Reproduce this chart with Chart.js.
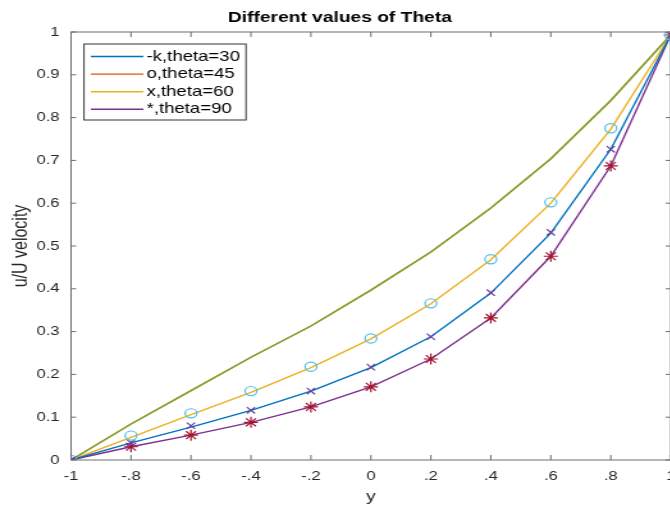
<!DOCTYPE html>
<html>
<head>
<meta charset="utf-8">
<script src="https://cdn.jsdelivr.net/npm/chart.js@4.4.1/dist/chart.umd.min.js"></script>
<style>
  html, body { margin: 0; padding: 0; background: #fff; overflow: hidden; }
  /* the reference picture is stretched sideways, so the canvas is too */
  #plot { transform: scaleX(1.28); transform-origin: 0 0; display: block; }
</style>
</head>
<body>
<canvas id="plot" width="542" height="506"></canvas>
<script>
// x positions (y coordinate across the channel)
const xs = [-1, -0.8, -0.6, -0.4, -0.2, 0, 0.2, 0.4, 0.6, 0.8, 1];

// line values
const theta30 = [0, 0.040, 0.077, 0.116, 0.161, 0.216, 0.288, 0.390, 0.530, 0.726, 0.993];
const theta60 = [0, 0.053, 0.106, 0.158, 0.216, 0.283, 0.365, 0.468, 0.600, 0.773, 0.993];
const theta90 = [0, 0.031, 0.058, 0.088, 0.124, 0.171, 0.236, 0.332, 0.476, 0.687, 0.993];
const greenLine = [0, 0.084, 0.162, 0.240, 0.313, 0.397, 0.486, 0.589, 0.704, 0.840, 0.993];
const theta45 = greenLine; // orange line sits under the green one

// marker series
const circleMarks = [0, 0.057, 0.109, 0.161, 0.218, 0.284, 0.366, 0.469, 0.602, 0.775, 0.993];
const crossMarks = [0, 0.040, 0.080, 0.116, 0.161, 0.217, 0.288, 0.391, 0.532, 0.726, 0.993];
const starMarks = [0, 0.031, 0.058, 0.088, 0.124, 0.171, 0.236, 0.332, 0.476, 0.687, 0.993];

const legendLabels = ["-k,theta=30", "o,theta=45", "x,theta=60", "*,theta=90"];

const axisColor = '#6e6e6e';
const textColor = '#262626';
const fontFamily = "'Liberation Sans', Arial, sans-serif";

const pts = vals => vals.map((v, i) => ({ x: xs[i], y: v }));

// higher order = drawn further below
function lineSet(label, vals, color, order) {
    return { label, data: pts(vals), order, showLine: true, borderColor: color, backgroundColor: color, borderWidth: 1.4, pointRadius: 0, pointHoverRadius: 0, tension: 0, fill: false };
}
function markSet(vals, color, style, r) {
    return { data: pts(vals), order: 0, showLine: false, borderColor: color, backgroundColor: 'transparent', borderWidth: 1.2, pointStyle: style, pointRadius: r, pointHoverRadius: r };
}

function fmtX(v) {
    const r = Math.round(v * 10) / 10;
    if (r === 0) return '0';
    if (Math.abs(r) === 1) return String(r);
    return r.toFixed(1).replace('0.', '.');
}
function fmtY(v) {
    const r = Math.round(v * 10) / 10;
    if (r === 0) return '0';
    if (r === 1) return '1';
    return r.toFixed(1);
}

// matlab style box with inward ticks + legend inside the axes
const boxAndLegend = {
    id: 'boxAndLegend',
    afterDatasetsDraw(chart) {
        const ctx = chart.ctx;
        const { left, right, top, bottom } = chart.chartArea;
        ctx.save();
        ctx.strokeStyle = axisColor;
        ctx.lineWidth = 1;
        ctx.strokeRect(left, top, right - left, bottom - top);
        ctx.beginPath();
        chart.scales.x.ticks.forEach(t => {
            const px = chart.scales.x.getPixelForValue(t.value);
            ctx.moveTo(px, bottom); ctx.lineTo(px, bottom - 5);
            ctx.moveTo(px, top); ctx.lineTo(px, top + 5);
        });
        chart.scales.y.ticks.forEach(t => {
            const py = chart.scales.y.getPixelForValue(t.value);
            ctx.moveTo(left, py); ctx.lineTo(left + 4, py);
            ctx.moveTo(right, py); ctx.lineTo(right - 4, py);
        });
        ctx.stroke();

        // legend
        const bx = 65.6, by = 44, bw = 126.6, bh = 76;
        ctx.fillStyle = '#fff';
        ctx.fillRect(bx, by, bw, bh);
        ctx.strokeStyle = '#333';
        ctx.strokeRect(bx, by, bw, bh);
        ctx.font = '14.5px ' + fontFamily;
        ctx.textBaseline = 'middle';
        ctx.fillStyle = '#000';
        legendLabels.forEach((lab, i) => {
            const ds = chart.data.datasets[i];
            const y = 56.5 + i * 17.6;
            ctx.strokeStyle = ds.borderColor;
            ctx.lineWidth = 1.4;
            ctx.beginPath();
            ctx.moveTo(71, y); ctx.lineTo(112, y);
            ctx.stroke();
            ctx.fillText(lab, 114.5, y);
        });
        ctx.restore();
    }
};

new Chart(document.getElementById('plot'), {
    type: 'scatter',
    data: {
        datasets: [
            lineSet(legendLabels[0], theta30, '#0072BD', 2),
            lineSet(legendLabels[1], theta45, '#D95319', 3),
            lineSet(legendLabels[2], theta60, '#EDB120', 2),
            lineSet(legendLabels[3], theta90, '#7E2F8E', 2),
            lineSet('', greenLine, '#77AC30', 1),
            markSet(circleMarks, '#4DBEEE', 'circle', 4.6),
            markSet(crossMarks, '#6A3F9E', 'crossRot', 4.5),
            markSet(starMarks, '#A2142F', 'star', 5.5)
        ]
    },
    options: {
        responsive: false,
        animation: false,
        layout: { padding: { left: 7, right: 18, top: 0, bottom: 0 } },
        plugins: {
            legend: { display: false },
            tooltip: { enabled: false },
            title: {
                display: true,
                text: 'Different values of Theta',
                color: '#000',
                font: { family: fontFamily, size: 15, weight: 'bold' },
                padding: { top: 9, bottom: 5 }
            }
        },
        scales: {
            x: {
                type: 'linear', min: -1, max: 1,
                grid: { display: false, drawTicks: false },
                border: { display: false },
                ticks: { stepSize: 0.2, padding: 9, color: textColor, font: { family: fontFamily, size: 13 }, callback: fmtX, maxRotation: 0, autoSkip: false },
                title: { display: true, text: 'y', color: textColor, font: { family: fontFamily, size: 15 }, padding: 0 },
                afterFit: s => { s.height = 46; }
            },
            y: {
                min: 0, max: 1,
                grid: { display: false, drawTicks: false },
                border: { display: false },
                ticks: { stepSize: 0.1, padding: 9, color: textColor, font: { family: fontFamily, size: 13 }, callback: fmtY },
                title: { display: true, text: 'u/U velocity', color: textColor, font: { family: fontFamily, size: 16 }, padding: 0 },
                afterFit: s => { s.width = 48.5; }
            }
        }
    },
    plugins: [boxAndLegend]
});
</script>
</body>
</html>
